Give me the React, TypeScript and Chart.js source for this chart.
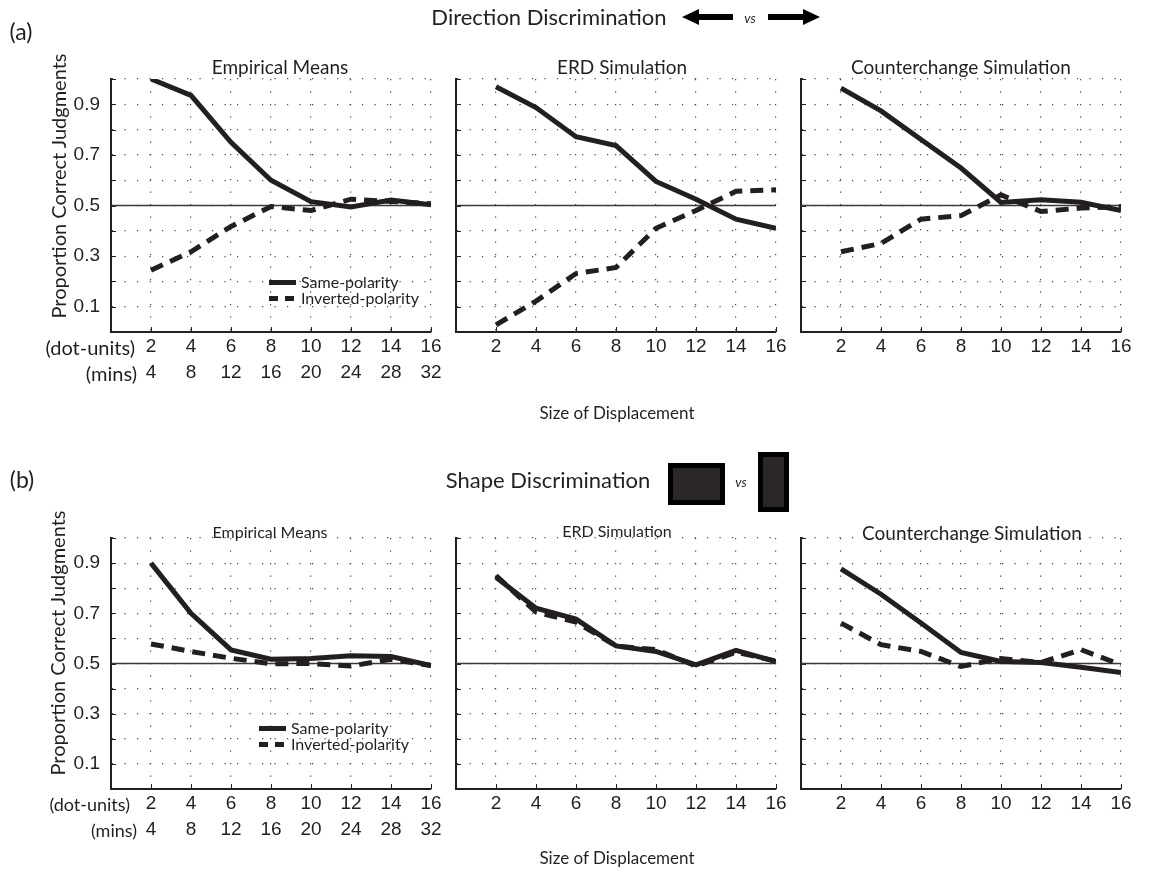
import React, { useEffect, useRef } from 'react';
import { Chart, registerables } from 'chart.js';

Chart.register(...registerables);

// Displacement in dot-units and the matching size in minutes of arc
const DISPLACEMENT = [2, 4, 6, 8, 10, 12, 14, 16];
const MINUTES = [4, 8, 12, 16, 20, 24, 28, 32];
const Y_LABELLED = [0.1, 0.3, 0.5, 0.7, 0.9];

// (a) Direction discrimination
const DIR_EMPIRICAL_SAME = [1.0, 0.935, 0.75, 0.6, 0.515, 0.494, 0.522, 0.503];
const DIR_EMPIRICAL_INVERTED = [0.244, 0.317, 0.417, 0.496, 0.48, 0.525, 0.516, 0.507];
const DIR_ERD_SAME = [0.969, 0.887, 0.772, 0.737, 0.595, 0.525, 0.446, 0.41];
const DIR_ERD_INVERTED = [0.028, 0.122, 0.231, 0.255, 0.41, 0.48, 0.556, 0.562];
const DIR_CC_SAME = [0.964, 0.874, 0.761, 0.648, 0.512, 0.523, 0.513, 0.48];
const DIR_CC_INVERTED = [0.317, 0.35, 0.446, 0.46, 0.542, 0.476, 0.49, 0.495];

// (b) Shape discrimination
const SHAPE_EMPIRICAL_SAME = [0.9, 0.7, 0.554, 0.517, 0.52, 0.531, 0.528, 0.492];
const SHAPE_EMPIRICAL_INVERTED = [0.578, 0.548, 0.521, 0.499, 0.5, 0.49, 0.517, 0.492];
const SHAPE_ERD_SAME = [0.844, 0.72, 0.677, 0.57, 0.548, 0.495, 0.552, 0.508];
const SHAPE_ERD_INVERTED = [0.85, 0.705, 0.665, 0.57, 0.555, 0.49, 0.545, 0.51];
const SHAPE_CC_SAME = [0.877, 0.776, 0.661, 0.544, 0.508, 0.504, 0.485, 0.464];
const SHAPE_CC_INVERTED = [0.661, 0.575, 0.548, 0.488, 0.52, 0.504, 0.555, 0.495];

const CHANCE = 0.5;

const W = 1149;
const H = 871;
const INK = '#231f20';
const GRID = '#4a4a4a';
const SANS = "Lato, 'Open Sans', sans-serif";
const ARIAL = "'Liberation Sans', Arial, sans-serif";
const NARROW = "'Liberation Sans Narrow', 'Liberation Sans', Arial, sans-serif";
const Y_AXIS_W = 60;
const X_AXIS_H = 70;
const TICK_LEN = 5;

// Short tick marks pointing into the plot area from both axes
const innerTicks = {
  id: 'innerTicks',
  beforeDatasetsDraw(chart: any) {
    const { ctx, chartArea, scales } = chart;
    ctx.save();
    ctx.strokeStyle = INK;
    ctx.lineWidth = 1;
    ctx.beginPath();
    scales.x.ticks.forEach((t: any) => {
      const px = Math.round(scales.x.getPixelForValue(t.value)) + 0.5;
      ctx.moveTo(px, chartArea.bottom);
      ctx.lineTo(px, chartArea.bottom - TICK_LEN);
    });
    scales.y.ticks.forEach((t: any) => {
      const py = Math.round(scales.y.getPixelForValue(t.value)) + 0.5;
      ctx.moveTo(chartArea.left, py);
      ctx.lineTo(chartArea.left + TICK_LEN, py);
    });
    ctx.stroke();
    ctx.restore();
  },
};

type PanelProps = {
  left: number;
  right: number;
  top: number;
  bottom: number;
  same: number[];
  inverted: number[];
  yLabels: boolean;
  mins: boolean;
  tickFamily: string;
};

function Panel({ left, right, top, bottom, same, inverted, yLabels, mins, tickFamily }: PanelProps) {
  const ref = useRef<HTMLCanvasElement>(null);
  useEffect(() => {
    if (!ref.current) return;
    const toPoints = (vals: number[]) => DISPLACEMENT.map((x, i) => ({ x, y: vals[i] }));
    const chart = new Chart(ref.current, {
      type: 'line',
      data: {
        datasets: [
          {
            label: 'Same-polarity',
            data: toPoints(same),
            borderColor: INK,
            borderWidth: 5,
            pointRadius: 0,
            tension: 0,
            borderJoinStyle: 'miter',
            order: 0,
          },
          {
            label: 'Inverted-polarity',
            data: toPoints(inverted),
            borderColor: INK,
            borderWidth: 5,
            borderDash: [13, 8],
            borderCapStyle: 'butt',
            pointRadius: 0,
            tension: 0,
            order: 1,
          },
          {
            label: 'chance',
            data: [
              { x: 0, y: CHANCE },
              { x: 16, y: CHANCE },
            ],
            borderColor: '#3a3a3a',
            borderWidth: 1.3,
            pointRadius: 0,
            order: 5,
          },
        ],
      },
      options: {
        animation: false,
        responsive: false,
        events: [],
        layout: {
          padding: {
            left: left - Y_AXIS_W,
            top,
            right: W - right,
            bottom: H - bottom - X_AXIS_H,
          },
        },
        plugins: {
          legend: { display: false },
          tooltip: { enabled: false },
        },
        scales: {
          x: {
            type: 'linear',
            min: 0,
            max: 16,
            afterFit: (s: any) => {
              s.height = X_AXIS_H;
            },
            ticks: {
              stepSize: 2,
              autoSkip: false,
              maxRotation: 0,
              padding: 2,
              color: INK,
              font: { family: tickFamily, size: 19, lineHeight: 1.37 },
              callback: (v: any) => {
                const i = DISPLACEMENT.indexOf(Number(v));
                if (i < 0) return '';
                return mins ? [String(DISPLACEMENT[i]), String(MINUTES[i])] : String(DISPLACEMENT[i]);
              },
            },
            grid: {
              color: GRID,
              lineWidth: 1.2,
              drawTicks: false,
            },
            border: { display: true, color: INK, width: 2, dash: [1.2, 11.3] },
          },
          y: {
            type: 'linear',
            min: 0,
            max: 1,
            afterFit: (s: any) => {
              s.width = Y_AXIS_W;
            },
            ticks: {
              stepSize: 0.1,
              autoSkip: false,
              padding: 11,
              color: INK,
              font: { family: ARIAL, size: 19 },
              callback: (v: any) => {
                const r = Math.round(Number(v) * 10) / 10;
                return yLabels && Y_LABELLED.includes(r) ? r.toFixed(1) : '';
              },
            },
            grid: {
              color: GRID,
              lineWidth: 1.2,
              drawTicks: false,
            },
            border: { display: true, color: INK, width: 2, dash: [1.2, 11.3] },
          },
        },
      },
      plugins: [innerTicks],
    } as any);
    return () => chart.destroy();
  }, []);
  return (
    <canvas
      ref={ref}
      width={W}
      height={H}
      style={{ position: 'absolute', left: 0, top: 0, width: W, height: H, pointerEvents: 'none' }}
    />
  );
}

type TextProps = {
  x: number;
  y: number;
  size: number;
  anchor?: 'left' | 'center' | 'right';
  family?: string;
  italic?: boolean;
  rotate?: boolean;
  children: React.ReactNode;
};

function Label({ x, y, size, anchor = 'center', family = SANS, italic, rotate, children }: TextProps) {
  const tx = anchor === 'center' ? '-50%' : anchor === 'right' ? '-100%' : '0';
  return (
    <div
      style={{
        position: 'absolute',
        left: x,
        top: y,
        transform: `translate(${tx}, -50%)${rotate ? ' rotate(-90deg)' : ''}`,
        fontSize: size,
        lineHeight: 1,
        whiteSpace: 'nowrap',
        fontFamily: family,
        fontStyle: italic ? 'italic' : 'normal',
        color: INK,
      }}
    >
      {children}
    </div>
  );
}

function LegendKey({ x, y }: { x: number; y: number }) {
  return (
    <>
      <div style={{ position: 'absolute', left: x, top: y - 2.5, width: 27, height: 5, background: INK }} />
      <div style={{ position: 'absolute', left: x, top: y + 16 - 2.5, width: 9, height: 5, background: INK }} />
      <div style={{ position: 'absolute', left: x + 16, top: y + 16 - 2.5, width: 9, height: 5, background: INK }} />
      <Label x={x + 32} y={y} size={16} anchor="left">Same-polarity</Label>
      <Label x={x + 32} y={y + 16} size={16} anchor="left">Inverted-polarity</Label>
    </>
  );
}

export default function App() {
  return (
    <div
      style={{
        position: 'fixed',
        left: 0,
        top: 0,
        width: W,
        height: H,
        background: '#fff',
        overflow: 'hidden',
      }}
    >
      <svg width={W} height={H} style={{ position: 'absolute', left: 0, top: 0 }}>
        {/* direction arrows */}
        <polygon points="682,17 699,9 699,14 733,14 733,20 699,20 699,25" fill="#000" />
        <polygon points="820,17 803,9 803,14 768,14 768,20 803,20 803,25" fill="#000" />
        {/* shape stimuli */}
        <rect x={670.5} y={465.5} width={52} height={37} fill="#2b2728" stroke="#000" strokeWidth={5} />
        <rect x={760.5} y={454.5} width={26} height={55} fill="#2b2728" stroke="#000" strokeWidth={5} />
      </svg>

      {/* (a) Direction discrimination */}
      <Panel left={111} right={431} top={79} bottom={332} same={DIR_EMPIRICAL_SAME} inverted={DIR_EMPIRICAL_INVERTED} yLabels mins tickFamily={ARIAL} />
      <Panel left={456} right={776} top={79} bottom={332} same={DIR_ERD_SAME} inverted={DIR_ERD_INVERTED} yLabels={false} mins={false} tickFamily={ARIAL} />
      <Panel left={801} right={1121} top={79} bottom={332} same={DIR_CC_SAME} inverted={DIR_CC_INVERTED} yLabels={false} mins={false} tickFamily={ARIAL} />

      {/* (b) Shape discrimination */}
      <Panel left={111} right={431} top={538} bottom={789} same={SHAPE_EMPIRICAL_SAME} inverted={SHAPE_EMPIRICAL_INVERTED} yLabels mins tickFamily={NARROW} />
      <Panel left={456} right={776} top={538} bottom={789} same={SHAPE_ERD_SAME} inverted={SHAPE_ERD_INVERTED} yLabels={false} mins={false} tickFamily={NARROW} />
      <Panel left={801} right={1121} top={538} bottom={789} same={SHAPE_CC_SAME} inverted={SHAPE_CC_INVERTED} yLabels={false} mins={false} tickFamily={NARROW} />

      <Label x={21} y={31} size={23}>(a)</Label>
      <Label x={549} y={17} size={22}>Direction Discrimination</Label>
      <Label x={750} y={18} size={13} italic>vs</Label>
      <Label x={280} y={66} size={19}>Empirical Means</Label>
      <Label x={622} y={66} size={19}>ERD Simulation</Label>
      <Label x={961} y={66} size={19}>Counterchange Simulation</Label>
      <Label x={58} y={186} size={20} rotate>Proportion Correct  Judgments</Label>
      <LegendKey x={269} y={282} />
      <Label x={135} y={347} size={20} anchor="right">(dot-units)</Label>
      <Label x={137} y={373} size={20} anchor="right">(mins)</Label>
      <Label x={617} y={412} size={17}>Size of Displacement</Label>

      <Label x={22} y={479} size={23}>(b)</Label>
      <Label x={548} y={480} size={22}>Shape Discrimination</Label>
      <Label x={741} y={482} size={13} italic>vs</Label>
      <Label x={270} y={532} size={16}>Empirical Means</Label>
      <Label x={617} y={531} size={16}>ERD Simulation</Label>
      <Label x={972} y={532} size={19}>Counterchange Simulation</Label>
      <Label x={57} y={643} size={20} rotate>Proportion Correct  Judgments</Label>
      <LegendKey x={259} y={728} />
      <Label x={130} y={804} size={18} anchor="right">(dot-units)</Label>
      <Label x={137} y={830} size={18} anchor="right">(mins)</Label>
      <Label x={617} y={857} size={17}>Size of Displacement</Label>
    </div>
  );
}
